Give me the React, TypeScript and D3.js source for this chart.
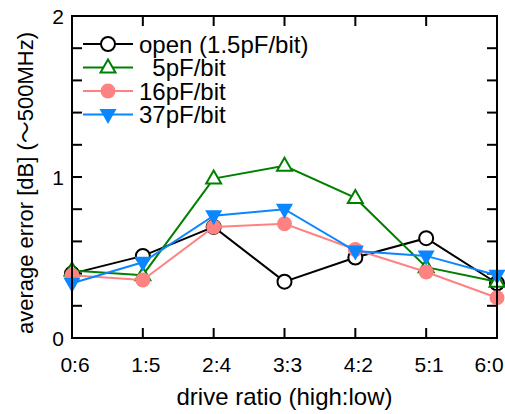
import React from 'react';
import * as d3 from 'd3';

const width = 505;
const height = 414;
const margin = { left: 72, right: 8, top: 16, bottom: 76 };

const ratios = ['0:6', '1:5', '2:4', '3:3', '4:2', '5:1', '6:0'];
const openVals = [0.40, 0.51, 0.69, 0.35, 0.50, 0.62, 0.34];
const pf5Vals = [0.42, 0.39, 0.99, 1.07, 0.87, 0.44, 0.35];
const pf16Vals = [0.39, 0.36, 0.69, 0.71, 0.55, 0.41, 0.25];
const pf37Vals = [0.34, 0.47, 0.76, 0.80, 0.54, 0.51, 0.39];
const yTickLabels = [0, 1, 2];

const seriesList = [
  { name: 'open (1.5pF/bit)', values: openVals, color: '#000000', marker: 'circleOpen' },
  { name: '  5pF/bit', values: pf5Vals, color: '#008000', marker: 'triUp' },
  { name: '16pF/bit', values: pf16Vals, color: '#ff8282', marker: 'circleFill' },
  { name: '37pF/bit', values: pf37Vals, color: '#0a86ff', marker: 'triDown' },
];

const family = '"Liberation Sans", Arial, "Noto Sans CJK JP", sans-serif';
const tickFont = { fontFamily: family, fontSize: 21 };
const bigFont = { fontFamily: family, fontSize: 24 };

function Marker({ type, x, y, color }) {
  if (type === 'circleOpen') {
    return <circle cx={x} cy={y} r={7} fill="#fff" stroke={color} strokeWidth={2} />;
  }
  if (type === 'circleFill') {
    return <circle cx={x} cy={y} r={7.5} fill={color} />;
  }
  if (type === 'triUp') {
    const p = d3.path();
    p.moveTo(x, y - 8); p.lineTo(x + 7.5, y + 5); p.lineTo(x - 7.5, y + 5); p.closePath();
    return <path d={p.toString()} fill="#fff" stroke={color} strokeWidth={2} />;
  }
  const p = d3.path();
  p.moveTo(x - 8.5, y - 5.5); p.lineTo(x + 8.5, y - 5.5); p.lineTo(x, y + 9.5); p.closePath();
  return <path d={p.toString()} fill={color} />;
}

export default function App() {
  const x = d3.scalePoint().domain(ratios).range([margin.left, width - margin.right]);
  const y = d3.scaleLinear().domain([0, 2]).range([height - margin.bottom, margin.top]);
  const x0 = margin.left, x1 = width - margin.right;
  const y0 = height - margin.bottom, y1 = margin.top;
  const minor = d3.range(0, 2.001, 0.2);
  const line = d3.line().x((d) => d[0]).y((d) => d[1]);

  return (
    <svg width={width} height={height} style={{ position: 'absolute', left: 0, top: 0, background: '#fff' }}>
      {/* ticks, inward on all four sides */}
      {minor.map((t) => (
        <g key={'yt' + t}>
          <line x1={x0} x2={x0 + 10} y1={y(t)} y2={y(t)} stroke="#000" strokeWidth={2} />
          <line x1={x1} x2={x1 - 10} y1={y(t)} y2={y(t)} stroke="#000" strokeWidth={2} />
        </g>
      ))}
      {ratios.map((r) => (
        <g key={'xt' + r}>
          <line x1={x(r)} x2={x(r)} y1={y0} y2={y0 - 10} stroke="#000" strokeWidth={2} />
          <line x1={x(r)} x2={x(r)} y1={y1} y2={y1 + 10} stroke="#000" strokeWidth={2} />
        </g>
      ))}

      {yTickLabels.map((t) => (
        <text key={'yl' + t} x={64} y={y(t) + 7.5} textAnchor="end" style={tickFont}>{t}</text>
      ))}
      {ratios.map((r, i) => (
        <text key={'xl' + r} x={i === ratios.length - 1 ? x(r) - 8 : x(r) + 3} y={372} textAnchor="middle" style={tickFont}>{r}</text>
      ))}

      <text x={(x0 + x1) / 2} y={405} textAnchor="middle" style={bigFont}>drive ratio (high:low)</text>
      <text transform={`translate(33,${(y0 + y1) / 2 + 6}) rotate(-90)`} textAnchor="middle" style={{ fontFamily: family, fontSize: 22 }}>
        average error [dB] (〜500MHz)
      </text>

      {seriesList.map((s) => {
        const pts = s.values.map((v, i) => [x(ratios[i]), y(v)]);
        return (
          <g key={s.name}>
            <path d={line(pts)} fill="none" stroke={s.color} strokeWidth={2} />
            {pts.map((p, i) => <Marker key={i} type={s.marker} x={p[0]} y={p[1]} color={s.color} />)}
          </g>
        );
      })}

      {/* legend */}
      {seriesList.map((s, i) => {
        const ly = 44 + i * 23.5;
        return (
          <g key={'lg' + s.name}>
            <line x1={83} x2={133} y1={ly} y2={ly} stroke={s.color} strokeWidth={2} />
            <Marker type={s.marker} x={108} y={ly} color={s.color} />
            <text x={139} y={ly + 8.5} style={{ ...bigFont, whiteSpace: 'pre' }}>{s.name}</text>
          </g>
        );
      })}

      <rect x={x0} y={y1} width={x1 - x0} height={y0 - y1} fill="none" stroke="#000" strokeWidth={2} />
    </svg>
  );
}
